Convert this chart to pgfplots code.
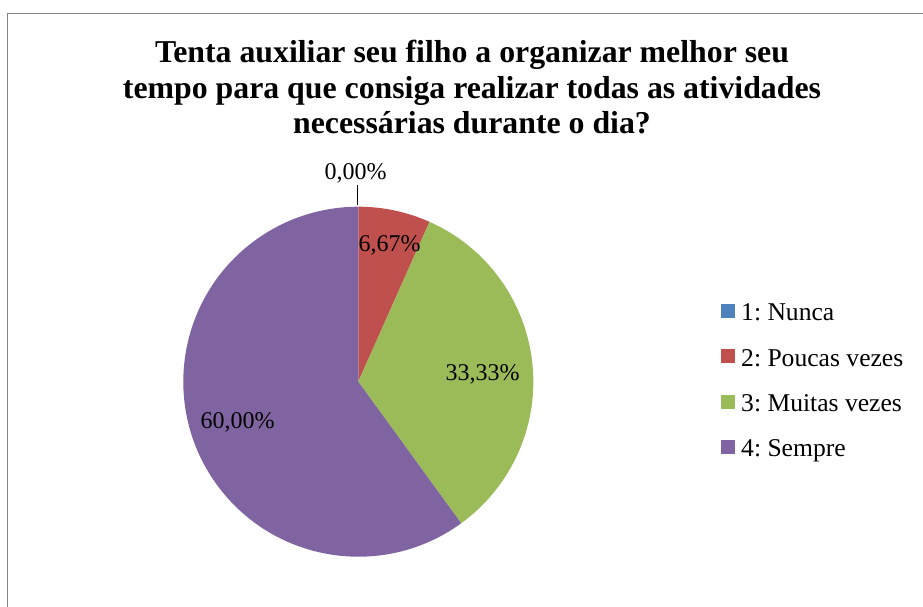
\documentclass[border=0pt]{standalone}
\usepackage{fontspec}
\setmainfont{Liberation Serif}
\frenchspacing
\usepackage{pgfplots}
\usepackage{pgfplotstable}
\pgfplotsset{compat=1.18}
\definecolor{cNunca}{HTML}{4F81BD}
\definecolor{cPoucas}{HTML}{C0504D}
\definecolor{cMuitas}{HTML}{9BBB59}
\definecolor{cSempre}{HTML}{8064A2}
\definecolor{frame}{HTML}{868686}
% share (%), data label position (px coordinates of label centre/baseline)
\pgfplotstableread{
idx value color   lx    ly    label
0   0.00  cNunca  355.5 427.0 {0,00\%}
1   6.67  cPoucas 389.5 355.3 {6,67\%}
2   33.33 cMuitas 482.7 226.3 {33,33\%}
3   60.00 cSempre 237.5 178.0 {60,00\%}
}\piedata
\begin{document}
\begin{tikzpicture}
\begin{axis}[
  width=923bp, height=607bp, scale only axis,
  xmin=0, xmax=923, ymin=0, ymax=607,
  hide axis, clip=false,
]
\coordinate (ll) at (axis cs:0,0);
\coordinate (ur) at (axis cs:923,607);
% frame
\draw[frame, line width=1.2bp] (axis cs:7.5,0) -- (axis cs:7.5,593.5) -- (axis cs:923,593.5);
% title
\node[anchor=base, font=\fontsize{31.8bp}{37bp}\selectfont\bfseries] at (axis cs:472,544.3) {Tenta auxiliar seu filho a organizar melhor seu};
\node[anchor=base, font=\fontsize{31.8bp}{37bp}\selectfont\bfseries] at (axis cs:472,508.7) {tempo para que consiga realizar todas as atividades};
\node[anchor=base, font=\fontsize{31.8bp}{37bp}\selectfont\bfseries] at (axis cs:472,473) {necessárias durante o dia?};
% pie wedges
\def\cum{0}
\pgfplotsforeachungrouped \i in {0,...,3}{%
  \pgfplotstablegetelem{\i}{value}\of\piedata \let\v=\pgfplotsretval
  \pgfplotstablegetelem{\i}{color}\of\piedata \let\c=\pgfplotsretval
  \pgfmathsetmacro\sa{90-3.6*\cum}%
  \pgfmathsetmacro\ea{90-3.6*(\cum+\v)}%
  \pgfmathsetmacro\cum{\cum+\v}%
  \ifdim\v pt>0pt
  \edef\temp{\noexpand\fill[\c] (axis cs:358.3,225.3) -- ++(\sa:175bp) arc[start angle=\sa, end angle=\ea, radius=175bp] -- cycle;}%
  \temp
  \fi
}
% leader line for 0,00%
\draw[black, line width=1bp] (axis cs:357.5,422) -- (axis cs:357.5,401.5);
% data labels
\pgfplotsforeachungrouped \i in {0,...,3}{%
  \pgfplotstablegetelem{\i}{lx}\of\piedata \let\lx=\pgfplotsretval
  \pgfplotstablegetelem{\i}{ly}\of\piedata \let\ly=\pgfplotsretval
  \pgfplotstablegetelem{\i}{label}\of\piedata \let\lb=\pgfplotsretval
  \edef\temp{\noexpand\node[anchor=base, inner sep=0pt, font=\noexpand\fontsize{24bp}{28bp}\noexpand\selectfont] at (axis cs:\lx,\ly) {\expandafter\noexpand\lb};}%
  \temp
}
% legend
\fill[cNunca]  (axis cs:721,289) rectangle (axis cs:735,303);
\fill[cPoucas] (axis cs:721,243.5) rectangle (axis cs:735,257.5);
\fill[cMuitas] (axis cs:721,198) rectangle (axis cs:735,212);
\fill[cSempre] (axis cs:721,153) rectangle (axis cs:735,167);
\node[anchor=base west, inner sep=0pt, font=\fontsize{25.6bp}{30bp}\selectfont] at (axis cs:741,286) {1: Nunca};
\node[anchor=base west, inner sep=0pt, font=\fontsize{25.6bp}{30bp}\selectfont] at (axis cs:741,240.5) {2: Poucas vezes};
\node[anchor=base west, inner sep=0pt, font=\fontsize{25.6bp}{30bp}\selectfont] at (axis cs:741,195) {3: Muitas vezes};
\node[anchor=base west, inner sep=0pt, font=\fontsize{25.6bp}{30bp}\selectfont] at (axis cs:741,150) {4: Sempre};
\end{axis}
\pgfresetboundingbox
\path[use as bounding box] (ll) rectangle (ur);
\end{tikzpicture}
\end{document}
